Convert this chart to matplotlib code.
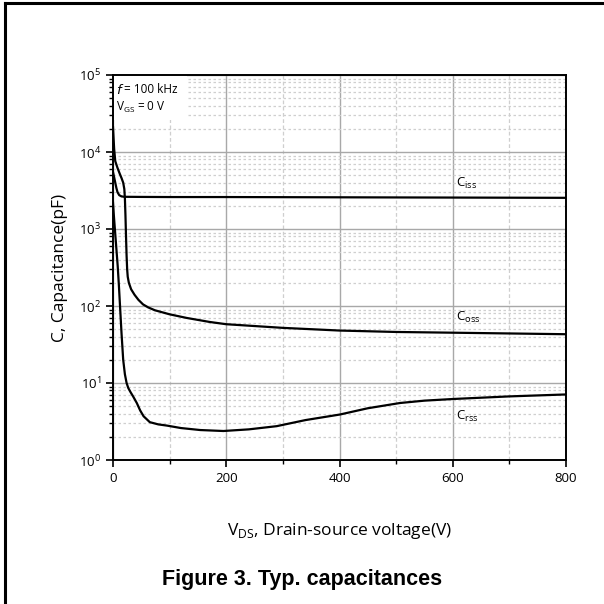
import matplotlib.pyplot as plt
from matplotlib.ticker import LogLocator, NullFormatter, MultipleLocator
from matplotlib.patches import Rectangle

# (V in volts, C in pF)
v_iss = [0, 2, 4, 6, 8, 11, 15, 20, 50, 100, 200, 300, 400, 500, 600, 700, 800]
c_iss = [5500, 4700, 4000, 3400, 3000, 2750, 2650, 2620, 2610, 2600, 2600,
         2590, 2580, 2570, 2560, 2550, 2540]

v_oss = [0, 2, 4, 8, 12, 15, 18, 20, 21, 22, 23, 24, 25, 26, 28, 32, 38, 45,
         53, 62, 74, 100, 130, 171, 200, 300, 400, 500, 600, 700, 800]
c_oss = [21000, 11000, 7600, 6200, 5200, 4600, 4000, 3300, 2500, 1500, 800,
         450, 300, 240, 200, 165, 140, 120, 105, 96, 88, 78, 70, 62, 58, 52,
         48, 46, 45, 44, 43]

v_rss = [0, 1.5, 3.3, 6, 8.3, 10.5, 12.4, 15, 18, 21, 24, 27, 31, 36, 42, 48,
         54, 65, 80, 95, 120, 154, 195, 240, 289, 340, 401, 450, 507, 550,
         601, 700, 800]
c_rss = [2200, 1500, 1000, 550, 330, 180, 100, 45, 20, 13, 10, 8.6, 7.6, 6.6,
         5.5, 4.4, 3.7, 3.1, 2.9, 2.8, 2.6, 2.45, 2.38, 2.5, 2.75, 3.3, 3.9,
         4.7, 5.5, 5.9, 6.2, 6.7, 7.1]

labels = ['C$_{\\rm iss}$', 'C$_{\\rm oss}$', 'C$_{\\rm rss}$']
label_v = [605, 605, 605]
label_c = [3900, 70, 3.7]

plt.rcParams['font.family'] = ['Open Sans', 'DejaVu Sans']
plt.rcParams['mathtext.fontset'] = 'custom'
plt.rcParams['mathtext.rm'] = 'Open Sans'

fig = plt.figure(figsize=(6.04, 6.04), dpi=100)
ax = fig.add_axes([113 / 604, 1 - 460 / 604, 453 / 604, 385 / 604])

# grid
ax.set_yscale('log')
ax.set_xlim(0, 800)
ax.set_ylim(1, 1e5)
ax.xaxis.set_major_locator(MultipleLocator(200))
ax.xaxis.set_minor_locator(MultipleLocator(100))
ax.yaxis.set_major_locator(LogLocator(base=10, numticks=10))
ax.yaxis.set_minor_locator(LogLocator(base=10, subs=range(2, 10), numticks=50))
ax.yaxis.set_minor_formatter(NullFormatter())
ax.grid(which='major', color='#a8a8a8', lw=1.0, ls='-')
ax.grid(which='minor', axis='y', color='#cfcfcf', lw=0.9, ls=(0, (2, 2)))
ax.grid(which='minor', axis='x', color='#cfcfcf', lw=0.9, ls=(0, (3, 2)))
ax.set_axisbelow(True)
ax.tick_params(axis='x', which='minor', length=0)

for v, c in [(v_iss, c_iss), (v_oss, c_oss), (v_rss, c_rss)]:
    ax.plot(v, c, color='black', lw=1.6, solid_joinstyle='round')

for t, x, y in zip(labels, label_v, label_c):
    ax.text(x, y, t, fontsize=9.5, va='center', ha='left')

# white box behind the conditions
ax.add_patch(Rectangle((0, 10 ** 4.42), 130, 1e5 - 10 ** 4.42,
                       facecolor='white', edgecolor='none', zorder=1.5))
ax.text(6, 10 ** 4.81, '$f$', fontsize=9.5, family='DejaVu Serif',
        va='center', style='italic', zorder=3)
ax.text(20, 10 ** 4.81, '= 100 kHz', fontsize=8.5, va='center', zorder=3)
ax.text(6, 10 ** 4.58, 'V$_{\\rm GS}$ = 0 V', fontsize=8.5, va='center', zorder=3)

for s in ax.spines.values():
    s.set_linewidth(1.4)
ax.tick_params(which='major', length=5, width=1.2, labelsize=9.5, direction='out')
ax.tick_params(which='minor', length=3, width=1.0, direction='out')

ax.set_xlabel('V$_{\\rm DS}$, Drain-source voltage(V)', fontsize=12.5, labelpad=26)
ax.set_ylabel('C, Capacitance(pF)', fontsize=12.5, labelpad=8)

fig.text(0.5, 1 - 580 / 604, 'Figure 3. Typ. capacitances', ha='center',
         va='center', fontsize=15.5, fontweight='bold', family='Liberation Sans')

# page border (left and top edges only are in view)
fig.add_artist(plt.Line2D([4.5 / 604, 4.5 / 604], [0, 1 - 3 / 604],
                          color='black', lw=2.2, transform=fig.transFigure))
fig.add_artist(plt.Line2D([4.5 / 604, 1], [1 - 3 / 604, 1 - 3 / 604],
                          color='black', lw=2.2, transform=fig.transFigure))

fig.savefig('out.png', dpi=100)
